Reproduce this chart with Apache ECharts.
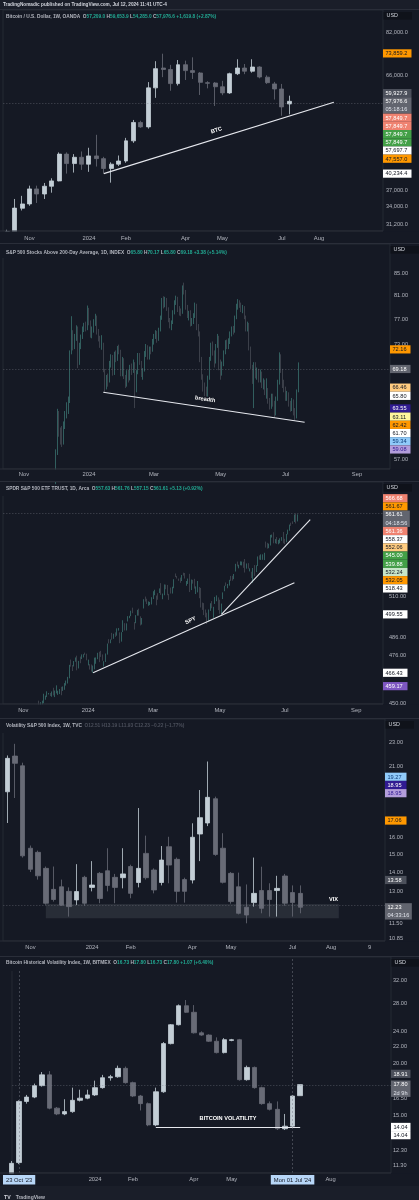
<!DOCTYPE html>
<html><head><meta charset="utf-8">
<script src="https://cdn.jsdelivr.net/npm/echarts@6/dist/echarts.min.js"></script>
<style>html,body{margin:0;padding:0;background:#151924;}#c{width:419px;height:1200px;}</style>
</head><body><div id="c"></div>
<script>
// ================= DATA =================
const weekDates = ['2023-10-16','2023-10-23','2023-10-30','2023-11-06','2023-11-13','2023-11-20','2023-11-27','2023-12-04','2023-12-11','2023-12-18','2023-12-25','2024-01-01','2024-01-08','2024-01-15','2024-01-22','2024-01-29','2024-02-05','2024-02-12','2024-02-19','2024-02-26','2024-03-04','2024-03-11','2024-03-18','2024-03-25','2024-04-01','2024-04-08','2024-04-15','2024-04-22','2024-04-29','2024-05-06','2024-05-13','2024-05-20','2024-05-27','2024-06-03','2024-06-10','2024-06-17','2024-06-24','2024-07-01','2024-07-08'];

// all OHLC rows in [open, close, low, high]
const btcRows = [
[26860,29990,26800,30300],[29990,33800,29800,35400],[33780,34520,33400,35960],[34520,37240,34200,37860],
[37240,36300,34690,37860],[36300,37750,35400,38380],[37750,38780,36540,39300],[38780,44400,38700,44790],
[44400,42330,40240,44800],[42330,43700,40450,44400],[43700,42200,41000,45000],[42200,44000,40600,45850],
[44000,43400,41700,48950],[43400,41300,40300,43800],[41300,42200,38440,42600],[42200,42880,41800,44090],
[42880,47480,42500,48200],[47480,52100,47000,52770],[52100,50950,50700,52550],[50950,62050,50500,63890],
[62050,68380,59000,71000],[68600,68100,65500,73740],[68100,63400,61150,69700],[63400,69750,62800,71430],
[69750,67700,64570,71200],[67700,67100,64900,72400],[66900,63800,59860,67200],[63700,63500,61900,64170],
[63600,62400,56630,63900],[62400,60500,59800,64300],[60500,66650,60200,67000],[66650,68600,66200,71700],
[68600,67500,66500,70000],[67500,68950,67000,71700],[68950,65550,65100,69200],[65500,63700,63300,66100],
[63300,61700,58500,63950],[61700,56357,53900,63300],[57209,57976.6,54285,59653.9]];

const vixRows = [
[19.05,21.66,16.9,21.9],[21.85,21.25,18.6,22.9],[21.05,14.9,14.8,21.3],[15.34,14.15,14.0,15.5],
[15.1,13.8,13.6,15.2],[14.2,12.42,12.35,14.3],[13.1,12.6,12.5,14.3],[13.23,12.33,12.3,13.6],
[13.0,12.26,11.8,13.2],[12.58,12.99,12.34,14.43],[13.72,12.42,12.3,13.8],[13.2,13.32,13.0,14.6],
[13.93,12.65,12.42,14.0],[14.07,13.3,13.0,15.34],[13.72,13.2,12.42,13.9],[13.7,13.9,13.15,15.34],
[14.3,12.9,12.66,14.4],[13.45,14.2,13.2,17.9],[15.04,13.7,13.6,16.1],[14.11,13.07,12.9,14.2],
[13.45,14.66,13.3,15.47],[15.43,14.38,13.41,16.03],[14.7,13.0,12.45,14.8],[13.6,13.0,12.45,13.7],
[13.58,16.0,13.4,16.88],[16.2,17.25,14.6,19.18],[16.9,18.65,16.7,21.4],[18.55,14.98,14.9,18.7],
[15.34,13.46,13.4,16.25],[13.93,12.5,12.4,14.0],[13.23,11.95,11.9,13.97],[12.23,11.87,11.5,13.35],
[12.45,12.9,12.26,14.8],[13.04,12.18,11.95,14.29],[13.04,12.6,11.8,13.41],[13.04,13.15,11.8,13.8],
[13.79,12.42,12.3,13.9],[12.94,12.45,11.8,13.3],[12.9,12.23,11.95,13.3]];

const bvolRows = [
[10.5,11.45,10.4,11.6],[11.5,16.2,11.4,16.3],[16.2,16.6,16.0,16.8],[16.6,17.7,16.5,17.9],
[17.7,18.8,17.6,19.1],[18.8,15.6,15.5,19.2],[15.6,15.1,15.0,15.7],[15.1,15.3,15.0,16.4],
[15.3,16.3,15.2,17.5],[16.3,16.5,16.2,17.3],[16.5,16.8,16.4,17.3],[16.8,17.5,16.7,18.2],
[17.5,18.5,17.4,18.8],[18.5,18.6,18.2,18.8],[18.6,19.5,18.5,19.8],[19.5,18.0,17.9,19.7],
[18.0,16.7,16.6,18.1],[16.7,16.0,15.4,16.8],[16.0,14.2,14.1,16.1],[14.2,17.1,14.1,17.5],
[17.1,22.4,17.0,22.6],[22.4,24.9,22.3,25.0],[24.9,27.7,24.8,27.9],[27.7,26.7,26.6,28.6],
[26.7,23.8,23.7,27.8],[23.8,23.5,23.4,24.0],[23.5,22.7,22.6,23.6],[22.7,21.3,21.2,23.2],
[21.3,22.9,21.2,23.1],[22.8,22.9,22.7,23.0],[22.9,18.3,18.2,23.0],[18.3,19.6,18.2,19.8],
[19.6,17.5,17.4,19.7],[17.5,16.0,15.9,17.6],[16.0,15.5,15.4,16.2],[15.5,13.9,13.8,16.2],
[13.9,14.1,13.8,15.1],[14.1,16.7,14.0,16.8],[16.73,17.80,16.73,17.80]];

// SPY daily: [date, open, close, low, high]
const spyRows = [
['2023-11-15',450.3,449.7,448.3,451.4],['2023-11-16',449.2,450.2,447.8,450.6],['2023-11-17',450.2,450.8,449.3,451.4],
['2023-11-20',450.5,454.3,450.0,455.1],['2023-11-21',453.2,453.3,451.9,454.1],['2023-11-22',454.0,455.0,453.3,456.4],
['2023-11-24',455.1,455.3,454.7,455.5],['2023-11-27',454.7,454.5,453.9,455.5],['2023-11-28',454.1,454.9,453.5,456.3],
['2023-11-29',457.2,454.6,454.2,458.3],['2023-11-30',455.5,456.4,453.3,456.8],['2023-12-01',455.8,459.1,455.3,459.6],
['2023-12-04',455.6,456.7,454.5,456.7],['2023-12-05',455.3,456.6,454.9,457.6],['2023-12-06',458.8,454.8,454.3,458.8],
['2023-12-07',456.9,458.2,456.6,459.0],['2023-12-08',457.5,460.2,457.2,460.8],['2023-12-11',459.7,461.9,459.5,462.2],
['2023-12-12',461.6,464.1,460.6,464.2],['2023-12-13',464.5,470.5,463.4,470.8],['2023-12-14',472.5,472.0,469.8,473.7],
['2023-12-15',469.5,469.3,467.4,470.7],['2023-12-18',470.0,472.0,469.9,472.9],['2023-12-19',472.5,474.8,472.5,474.9],
['2023-12-20',474.0,468.3,467.8,475.9],['2023-12-21',471.3,472.7,468.8,473.0],['2023-12-22',473.9,473.7,471.7,475.4],
['2023-12-26',474.1,475.7,474.0,476.6],['2023-12-27',475.4,476.5,474.9,476.7],['2023-12-28',476.9,476.7,476.3,477.6],
['2023-12-29',476.5,475.3,473.3,477.0],['2024-01-02',472.2,472.7,470.5,473.7],['2024-01-03',470.4,468.8,468.2,471.2],
['2024-01-04',468.3,467.3,467.1,471.0],['2024-01-05',467.5,467.9,466.4,470.4],['2024-01-08',468.4,474.6,468.3,474.8],
['2024-01-09',471.9,473.9,471.4,474.9],['2024-01-10',474.2,476.6,473.9,477.5],['2024-01-11',477.6,476.4,472.3,478.1],
['2024-01-12',477.8,476.7,475.2,478.6],['2024-01-16',475.3,474.9,473.1,476.6],['2024-01-17',471.8,472.3,469.9,472.8],
['2024-01-18',474.0,476.5,472.4,477.1],['2024-01-19',477.7,482.4,476.5,482.7],['2024-01-22',484.0,483.5,482.8,485.2],
['2024-01-23',484.0,484.9,482.9,485.1],['2024-01-24',487.8,485.4,484.9,488.8],['2024-01-25',487.6,488.0,485.4,488.3],
['2024-01-26',487.6,487.4,486.5,489.1],['2024-01-29',487.7,491.3,487.2,491.4],['2024-01-30',490.6,490.9,490.1,491.6],
['2024-01-31',488.6,482.9,482.9,489.1],['2024-02-01',484.6,489.2,483.8,489.2],['2024-02-02',489.6,494.4,489.3,496.1],
['2024-02-05',493.7,492.6,490.2,494.4],['2024-02-06',493.5,494.0,490.2,494.3],['2024-02-07',496.3,498.1,495.4,498.5],
['2024-02-08',498.1,498.3,497.3,498.7],['2024-02-09',498.8,501.2,498.5,501.7],['2024-02-12',501.2,501.0,500.2,503.5],
['2024-02-13',494.5,494.1,490.7,495.1],['2024-02-14',496.8,498.6,494.4,499.1],['2024-02-15',499.3,502.0,498.8,502.2],
['2024-02-16',501.7,499.5,498.8,502.9],['2024-02-20',497.7,496.8,493.1,498.4],['2024-02-21',495.4,497.2,493.6,497.4],
['2024-02-22',504.0,507.5,503.0,508.5],['2024-02-23',509.3,507.9,507.1,510.1],['2024-02-26',508.3,506.0,505.6,508.8],
['2024-02-27',506.7,506.9,504.6,507.2],['2024-02-28',505.3,506.3,505.0,506.9],['2024-02-29',508.1,508.1,505.4,509.7],
['2024-03-01',509.0,512.9,508.6,513.3],['2024-03-04',512.0,512.3,510.9,514.2],['2024-03-05',510.2,507.2,504.9,510.7],
['2024-03-06',510.6,509.8,508.2,512.1],['2024-03-07',513.1,514.8,512.2,515.0],['2024-03-08',515.5,511.7,511.1,518.2],
['2024-03-11',510.5,511.3,508.5,511.9],['2024-03-12',513.5,516.8,510.9,517.4],['2024-03-13',517.1,516.0,514.5,517.3],
['2024-03-14',517.0,515.0,510.9,517.1],['2024-03-15',510.2,509.8,508.1,511.7],['2024-03-18',514.0,512.9,511.9,515.5],
['2024-03-19',512.1,516.0,511.9,516.0],['2024-03-20',515.8,520.5,515.1,520.6],['2024-03-21',523.4,522.2,521.9,524.1],
['2024-03-22',522.1,521.2,521.0,522.6],['2024-03-25',519.8,519.8,519.6,521.0],['2024-03-26',521.2,518.8,518.4,521.6],
['2024-03-27',521.7,523.2,519.5,523.2],['2024-03-28',523.2,523.1,522.8,524.6],['2024-04-01',523.8,522.2,521.0,524.4],
['2024-04-02',518.2,518.8,516.6,519.5],['2024-04-03',517.7,519.4,517.7,521.0],['2024-04-04',523.5,513.1,512.8,523.9],
['2024-04-05',514.5,518.4,514.0,520.4],['2024-04-08',519.2,518.7,517.9,520.2],['2024-04-09',520.5,519.3,514.9,520.8],
['2024-04-10',513.5,514.1,511.6,516.2],['2024-04-11',515.7,518.0,512.6,519.5],['2024-04-12',514.4,510.9,509.1,515.8],
['2024-04-15',515.1,504.5,503.6,515.3],['2024-04-16',504.9,503.5,502.2,506.5],['2024-04-17',506.1,500.6,499.1,506.2],
['2024-04-18',501.0,499.5,497.8,502.4],['2024-04-19',499.4,495.2,493.9,500.5],['2024-04-22',497.8,499.7,495.4,502.4],
['2024-04-23',501.8,505.7,501.6,506.1],['2024-04-24',506.6,505.4,503.1,507.4],['2024-04-25',499.2,503.5,497.5,504.0],
['2024-04-26',506.4,508.3,505.7,509.9],['2024-04-29',510.1,510.1,507.3,510.8],['2024-04-30',508.6,502.0,502.0,509.6],
['2024-05-01',501.4,500.4,499.9,508.2],['2024-05-02',504.2,505.0,499.6,505.9],['2024-05-03',511.2,511.3,508.6,512.6],
['2024-05-06',513.8,516.6,513.3,516.6],['2024-05-07',517.6,517.1,516.4,518.6],['2024-05-08',515.3,517.2,515.1,517.7],
['2024-05-09',517.4,520.2,516.7,520.2],['2024-05-10',521.8,520.8,519.6,522.6],['2024-05-13',522.6,520.9,519.7,522.7],
['2024-05-14',521.1,523.3,520.6,523.8],['2024-05-15',525.8,529.8,525.3,530.1],['2024-05-16',529.9,528.7,528.5,531.5],
['2024-05-17',528.8,529.5,527.3,529.5],['2024-05-20',529.6,530.1,529.2,531.6],['2024-05-21',529.3,531.4,529.1,531.5],
['2024-05-22',530.7,529.8,527.6,531.4],['2024-05-23',533.0,526.0,524.7,533.1],['2024-05-24',527.9,529.4,527.1,530.3],
['2024-05-28',530.3,529.8,527.1,530.5],['2024-05-29',525.7,526.1,525.4,527.3],['2024-05-30',524.5,522.6,521.3,525.2],
['2024-05-31',523.6,527.4,518.4,527.5],['2024-06-03',529.0,527.8,522.6,529.3],['2024-06-04',526.5,528.4,525.0,529.2],
['2024-06-05',530.8,534.7,528.7,534.7],['2024-06-06',535.0,534.7,532.7,535.4],['2024-06-07',533.7,534.0,532.5,536.0],
['2024-06-10',533.2,535.7,532.6,536.0],['2024-06-11',534.1,537.0,532.4,537.0],['2024-06-12',541.6,541.4,540.3,544.1],
['2024-06-13',543.1,542.5,539.6,543.3],['2024-06-14',540.9,542.8,539.9,542.8],['2024-06-17',542.1,547.1,541.6,548.4],
['2024-06-18',547.2,548.5,546.7,548.6],['2024-06-20',549.4,547.0,543.0,550.1],['2024-06-21',544.4,544.5,543.0,545.7],
['2024-06-24',544.3,542.7,542.6,547.0],['2024-06-25',544.0,544.8,542.4,545.2],['2024-06-26',543.7,545.5,543.0,546.2],
['2024-06-27',545.4,546.4,544.6,547.0],['2024-06-28',547.2,544.2,543.0,550.3],['2024-07-01',545.6,545.3,542.5,545.9],
['2024-07-02',543.7,549.0,543.7,549.0],['2024-07-03',548.7,551.5,548.7,551.8],['2024-07-05',551.8,554.6,551.1,555.1],
['2024-07-08',555.4,555.3,554.2,556.3],['2024-07-09',556.3,555.8,555.5,557.2],['2024-07-10',557.1,561.3,556.8,561.7],
['2024-07-11',561.4,556.5,555.8,562.3],['2024-07-12',557.63,561.61,557.15,561.76]];

// S&P 500 stocks above 200-day average, daily, last rows end 2024-07-12 (aligned to spy dates)
const s5thRows = [
[54.5,57.8,54.0,58.2],[57.9,62.5,57.5,63.5],[62.3,60.4,59.8,63.2],[60.4,59.4,58.8,61.0],[59.5,59.0,58.5,61.2],
[59.0,61.3,58.8,61.8],[61.3,62.8,60.8,63.2],[62.8,63.6,62.2,64.4],[63.6,64.3,62.8,65.2],[64.5,71.5,64.3,72.0],
[71.8,74.8,71.4,77.5],[74.8,72.6,72.0,75.2],[72.6,73.9,72.2,74.6],[73.9,75.6,73.5,76.0],[75.6,69.8,69.3,75.8],
[70.0,72.8,69.8,73.2],[72.8,74.0,72.2,74.5],[74.0,75.4,73.8,75.8],[75.4,76.0,74.9,76.4],[76.0,75.6,75.0,76.6],
[75.6,78.9,75.2,79.3],[78.6,76.6,76.0,78.9],[76.6,74.4,74.0,76.8],[74.4,75.2,73.9,75.8],[75.2,76.6,74.8,77.0],
[76.6,77.5,75.9,77.9],[77.5,74.9,74.5,77.6],[74.9,74.0,73.4,75.4],[74.0,72.9,72.4,74.3],[72.9,73.8,72.1,74.4],
[73.0,69.0,68.7,73.2],[68.9,66.6,65.7,69.2],[66.6,67.8,66.2,68.3],[67.8,67.2,66.6,68.5],[67.4,70.0,67.2,70.4],
[70.0,71.0,69.4,71.4],[71.0,68.6,68.2,71.3],[68.6,71.5,68.3,71.8],[71.5,70.8,70.2,72.0],[70.8,72.4,70.4,72.7],
[72.4,71.9,71.4,72.9],[71.9,68.4,68.1,72.1],[68.4,70.6,68.1,71.0],[70.6,68.0,67.7,70.8],[68.0,66.8,66.4,68.3],
[66.8,68.6,66.6,69.0],[68.6,67.8,67.2,69.1],[67.8,69.4,67.5,69.8],[69.4,68.8,68.3,70.0],[68.8,70.2,68.6,70.6],
[70.0,66.0,63.6,70.2],[66.0,68.6,65.8,69.0],[68.6,71.3,68.4,71.6],[71.3,70.2,69.8,71.6],[70.2,68.4,68.0,70.4],
[68.4,68.9,67.6,69.3],[69.0,71.4,68.8,71.9],[71.4,72.6,71.0,73.0],[72.6,70.9,70.6,72.8],[70.9,72.3,70.6,72.6],
[72.3,72.0,71.4,72.6],[72.0,73.4,71.8,73.8],[73.4,74.2,72.9,74.6],[74.2,74.8,73.8,75.2],[74.8,73.6,73.2,75.1],
[73.6,75.2,73.5,75.6],[75.2,77.2,75.0,77.6],[77.2,80.2,76.9,80.6],[80.2,79.6,78.8,80.9],[79.6,80.4,79.0,80.8],
[80.4,78.8,78.4,80.6],[78.8,76.9,76.5,79.0],[76.9,75.9,75.5,77.2],[75.9,76.4,75.2,76.8],[76.4,78.1,76.2,78.5],
[78.1,79.8,77.8,80.2],[79.8,80.6,79.4,81.0],[80.6,78.6,78.2,80.8],[78.6,78.2,77.6,79.2],[78.2,78.0,77.5,78.8],
[78.0,82.4,77.9,82.8],[82.4,81.8,81.2,83.3],[81.8,79.0,78.6,82.0],[79.0,77.6,77.2,79.4],[77.6,77.9,76.8,78.4],
[77.9,76.2,75.8,78.5],[76.2,76.8,75.9,77.2],[76.6,77.6,76.2,78.0],[77.6,79.4,77.2,79.8],[79.4,75.6,75.2,79.6],
[75.6,74.8,74.2,76.2],[74.8,70.6,70.2,75.0],[70.6,68.0,67.6,71.0],[68.0,66.4,65.9,68.4],[66.4,65.8,65.2,67.2],
[65.8,65.2,64.6,66.6],[65.2,67.8,65.0,68.2],[67.8,70.6,67.6,71.0],[70.6,72.8,70.4,73.2],[72.8,71.6,71.2,73.4],
[71.6,70.2,69.4,72.0],[70.2,72.6,70.0,73.0],[72.6,74.1,72.4,74.6],[74.1,69.4,69.0,74.3],[69.4,68.4,67.6,70.6],
[68.4,69.8,68.2,70.3],[69.8,71.6,69.6,72.0],[71.6,73.2,71.4,73.6],[73.2,72.6,72.2,73.7],[72.6,73.4,72.2,73.9],
[73.4,74.6,73.0,75.0],[74.6,75.4,74.2,75.8],[75.4,75.0,74.5,75.9],[75.0,77.2,74.8,77.6],[77.2,79.2,77.0,79.6],
[79.2,79.8,78.6,80.4],[79.8,79.4,78.9,80.2],[79.4,78.6,78.2,79.8],[78.6,79.0,78.0,79.4],[79.0,77.4,77.0,79.2],
[77.4,75.4,75.0,77.6],[75.4,76.2,75.0,76.6],[76.2,72.4,72.0,76.4],[72.4,69.6,69.2,72.6],[69.6,67.4,67.0,69.8],
[67.4,69.8,63.6,70.2],[69.8,68.4,67.8,70.2],[68.4,68.9,67.6,69.4],[68.9,67.6,67.2,69.2],[67.6,68.6,67.2,69.1],
[68.6,66.8,66.4,68.8],[66.8,67.4,66.2,67.8],[67.4,65.8,65.4,67.6],[65.8,66.2,64.9,67.8],[66.2,64.6,64.2,66.4],
[64.6,63.8,63.4,65.0],[63.8,65.2,63.5,65.6],[65.2,64.4,63.8,65.6],[64.4,62.9,62.3,64.6],[62.9,64.8,62.6,65.2],
[64.8,67.2,64.6,67.6],[67.2,71.2,66.9,71.7],[71.2,69.0,68.6,71.4],[69.0,66.8,66.4,69.2],[66.8,66.2,65.8,67.6],
[66.2,65.0,64.6,66.6],[65.0,65.6,64.6,66.0],[65.6,64.2,63.8,65.8],[64.2,63.6,63.1,64.6],[63.6,64.4,63.2,65.0],
[64.4,63.0,62.6,64.8],[63.0,62.4,61.9,63.6],[62.4,65.8,62.2,66.2],[65.80,69.18,65.80,70.17]];

// axis tick labels
const btcYTicks = [82000, 66000, 37000, 34000, 31200];
const s5thYTicks = [85, 81, 77, 73, 57];
const spyYTicks = [510, 486, 476, 450];
const vixYTicks = [23, 21, 16, 15, 14, 13, 11.5, 10.85];
const bvolYTicks = [32, 28, 24, 22, 20, 16.5, 15, 12.3, 11.3];
const weekTicks = [['2023-11-06','Nov'],['2024-01-01','2024'],['2024-02-05','Feb'],['2024-04-01','Apr'],['2024-05-06','May'],['2024-07-01','Jul'],['2024-08-05','Aug']];
const vixWeekTicks = weekTicks.concat([['2024-09-09','9']]);
const bvolWeekTicks = [['2023-10-23',"23 Oct '23"],['2024-01-01','2024'],['2024-02-05','Feb'],['2024-04-01','Apr'],['2024-05-06','May'],['2024-07-01',"Mon 01 Jul '24"],['2024-08-05','Aug']];
const dayTicks = [['2023-11-01','Nov'],['2024-01-02','2024'],['2024-03-01','Mar'],['2024-05-01','May'],['2024-07-01','Jul'],['2024-09-03','Sep']];

// visible axis ranges (price units)
const btcRange = [30110, 91960], s5thRange = [55.79, 90.52], spyRange = [449.64, 583.54], vixRange = [10.745, 25.19], bvolRange = [10.846, 36.40];

// price tags on the right scale (top to bottom as shown)
const btcTagValues = [73859.2, 59927.9, 57976.6, 57849.7, 57849.7, 57849.7, 57849.7, 57697.7, 47557.0, 40234.4];
const s5thTagValues = [72.16, 69.18, 66.46, 65.80, 63.55, 63.11, 62.42, 61.70, 59.34, 59.08];
const spyTagValues = [566.68, 561.67, 561.61, 561.36, 558.37, 552.06, 545.00, 539.88, 532.24, 532.05, 518.43, 499.55, 466.43, 459.17];
const vixTagValues = [19.27, 18.95, 18.95, 17.06, 13.58, 12.23];
const bvolTagValues = [18.91, 17.80, 14.04, 14.04];

// drawings: [startDate, startValue, endDate, endValue, label]
const btcTrend = ['2024-01-15', 40234.4, '2024-08-19', 57697.7, 'BTC'];
const breadthTrend = ['2024-01-16', 65.80, '2024-07-18', 61.70, 'breadth'];
const spyTrend1 = ['2024-01-05', 466.43, '2024-07-10', 518.43, 'SPY'];
const spyTrend2 = ['2024-05-02', 499.55, '2024-07-24', 558.37, ''];
const bvolLevel = ['2024-02-26', 14.04, '2024-07-08', 14.04, 'BITCOIN VOLATILITY'];
const vixZone = ['2023-11-20', 12.38, '2024-08-12', 11.73, 'VIX'];

// ================= HELPERS =================
const L = v => Math.log10(v);
const DAY = 86400000;
const pd = s => Date.parse(s + 'T00:00:00Z');
const weekIdx = s => Math.round((pd(s) - pd(weekDates[0])) / (7 * DAY));
const spyDates = spyRows.map(r => r[0]);
const K0 = spyDates.indexOf('2024-01-02');
function countWeekdays(a, b) { let n = 0; for (let t = a; t < b; t += DAY) { const d = new Date(t).getUTCDay(); if (d !== 0 && d !== 6) n++; } return n; }
function dayIdx(s) {
  const i = spyDates.indexOf(s);
  if (i >= 0) return i - K0;
  const t = pd(s), first = pd(spyDates[0]), last = pd(spyDates[spyDates.length - 1]);
  if (t < first) return -countWeekdays(t, first) - K0;
  return (spyDates.length - 1 - K0) + countWeekdays(last + DAY, t + DAY);
}
const s5thDates = spyDates.slice(-s5thRows.length);

// ================= STYLE =================
const FONT = '"Liberation Sans", Arial, sans-serif';
const BG = '#151924', LINE = '#2a2e39', TXT = '#b2b5be';
const TAGC = {
  orange: ['#ff9800', '#131722'], gray: ['#4c505b', '#ffffff'], cur: ['#62656f', '#ffffff'],
  salmon: ['#ef8270', '#ffffff'], green: ['#43a047', '#ffffff'], white: ['#ffffff', '#131722'],
  peach: ['#ffcc80', '#131722'], indigo: ['#311b92', '#ffffff'], yellow: ['#fff59d', '#131722'],
  blue: ['#90caf9', '#0d3c78'], lavender: ['#b39ddb', '#311b92'], purple: ['#7e57c2', '#ffffff'], mint: ['#c8e6c9', '#131722']
};
const f1 = v => v.toLocaleString('en-US', {minimumFractionDigits: 1, maximumFractionDigits: 1});
const f2 = v => v.toFixed(2);
const WUP = '#c3ced6', WDN = '#686b76', DUP = '#4a9990', DDN = '#5c5f69';
const titleRich = {
  n: {color: TXT, fontSize: 4.8, fontFamily: FONT}, k: {color: TXT, fontSize: 4.8, fontFamily: FONT},
  v: {color: '#22ab94', fontSize: 4.8, fontFamily: FONT}, d: {color: '#4b4f5b', fontSize: 4.8, fontFamily: FONT}
};

const panels = [
  { grid: {left: 3, top: 10, width: 380, height: 221}, next: 243, xr: [-0.5725, 50.62], yr: btcRange,
    rows: btcRows.map((r, i) => [i].concat(r)), xTicks: weekTicks.map(t => [weekIdx(t[0]), t[1]]),
    yTicks: btcYTicks, yFmt: f1, tagFmt: f1, up: WUP, dn: WDN, bw: 4.4, bwid: 0.8, xm: 4, ym: 3, tdy: 4,
    title: '{n|Bitcoin / U.S. Dollar, 1W, OANDA}  {k|O}{v|57,209.0} {k|H}{v|59,653.9} {k|L}{v|54,285.0} {k|C}{v|57,976.6} {v|+1,619.8 (+2.87%)}',
    cur: 57976.6, trends: [[weekIdx(btcTrend[0]), btcTrend[1], weekIdx(btcTrend[2]), btcTrend[3], btcTrend[4]]],
    tagV: btcTagValues, tagK: ['orange','gray','cur','salmon','salmon','green','green','white','orange','white'], cd: '05:18:16', tagW: 28.5 },
  { grid: {left: 3, top: 244, width: 387, height: 225}, next: 481, xr: [-54.22, 189.8], yr: s5thRange,
    rows: s5thRows.map((r, i) => [dayIdx(s5thDates[i])].concat(r)), xTicks: dayTicks.map(t => [dayIdx(t[0]), t[1]]),
    yTicks: s5thYTicks, yFmt: f2, tagFmt: f2, up: DUP, dn: DDN, bw: 0.8, bwid: 0.55, xm: 2, ym: 4, tdy: 6,
    title: '{n|S&P 500 Stocks Above 200-Day Average, 1D, INDEX}  {k|O}{v|65.80} {k|H}{v|70.17} {k|L}{v|65.80} {k|C}{v|69.18} {v|+3.38 (+5.14%)}',
    cur: 69.18, trends: [[dayIdx(breadthTrend[0]), breadthTrend[1], dayIdx(breadthTrend[2]), breadthTrend[3], breadthTrend[4]]],
    tagV: s5thTagValues, tagK: ['orange','cur','peach','white','indigo','yellow','orange','white','blue','lavender'], cd: null, tagW: 20.5 },
  { grid: {left: 3, top: 482, width: 380, height: 222}, next: 718, xr: [-53.82, 185.9], yr: spyRange,
    rows: spyRows.map(r => [dayIdx(r[0])].concat(r.slice(1))), xTicks: dayTicks.map(t => [dayIdx(t[0]), t[1]]),
    yTicks: spyYTicks, yFmt: f2, tagFmt: f2, up: DUP, dn: DDN, bw: 0.8, bwid: 0.55, xm: 3, ym: 6, tdy: 4,
    title: '{n|SPDR S&P 500 ETF TRUST, 1D, Arca}  {k|O}{v|557.63} {k|H}{v|561.76} {k|L}{v|557.15} {k|C}{v|561.61} {v|+5.13 (+0.92%)}',
    cur: 561.61, trends: [[dayIdx(spyTrend1[0]), spyTrend1[1], dayIdx(spyTrend1[2]), spyTrend1[3], spyTrend1[4]],
                          [dayIdx(spyTrend2[0]), spyTrend2[1], dayIdx(spyTrend2[2]), spyTrend2[3], spyTrend2[4]]],
    tagV: spyTagValues, tagK: ['salmon','orange','cur','salmon','white','peach','green','green','mint','orange','white','white','white','purple'], cd: '04:18:56', tagW: 24.5 },
  { grid: {left: 3, top: 719, width: 382, height: 222}, next: 956, xr: [-0.556, 48.99], yr: vixRange,
    rows: vixRows.map((r, i) => [i].concat(r)), xTicks: vixWeekTicks.map(t => [weekIdx(t[0]), t[1]]),
    yTicks: vixYTicks, yFmt: f2, tagFmt: f2, up: WUP, dn: WDN, bw: 5.0, bwid: 0.8, xm: 3, ym: 4, tdy: 4,
    title: '{n|Volatility S&P 500 Index, 1W, TVC}  {d|O12.51 H13.19 L11.93 C12.23 −0.22 (−1.77%)}',
    cur: 12.23, trends: [],
    zone: [weekIdx(vixZone[0]), vixZone[1], weekIdx(vixZone[2]), vixZone[3], vixZone[4]],
    tagV: vixTagValues, tagK: ['blue','indigo','lavender','orange','gray','cur'], cd: '04:33:16', tagW: 21.5 },
  { grid: {left: 3, top: 957, width: 388, height: 216}, next: 1186, xr: [0.057, 49.96], yr: bvolRange,
    rows: bvolRows.map((r, i) => [i].concat(r)), xTicks: bvolWeekTicks.map(t => [weekIdx(t[0]), t[1]]),
    yTicks: bvolYTicks, yFmt: f2, tagFmt: f2, up: WUP, dn: WDN, bw: 4.9, bwid: 0.8, xm: 2, ym: 2, tdy: 3,
    hl: {"23 Oct '23": true, "Mon 01 Jul '24": true},
    title: '{n|Bitcoin Historical Volatility Index, 1W, BITMEX}  {k|O}{v|16.73} {k|H}{v|17.80} {k|L}{v|16.73} {k|C}{v|17.80} {v|+1.07 (+6.40%)}',
    cur: 17.80, trends: [[weekIdx(bvolLevel[0]), bvolLevel[1], weekIdx(bvolLevel[2]), bvolLevel[3], bvolLevel[4]]],
    vlines: [weekIdx('2023-10-23'), weekIdx('2024-07-01')],
    tagV: bvolTagValues, tagK: ['gray','cur','white','white'], cd: '2d 9h', tagW: 19.5 }
];

// ================= OPTION =================
const option = {backgroundColor: BG, animation: false, grid: [], xAxis: [], yAxis: [], series: [], title: []};
panels.forEach((P, i) => {
  option.grid.push(Object.assign({show: true, borderColor: LINE, borderWidth: 0.8, backgroundColor: BG}, P.grid));
  const xr = {n: {color: TXT, fontSize: 5.8, fontFamily: FONT, padding: [1.5, 0, 0, 0]},
              hl: {color: '#131722', backgroundColor: '#b7d6f7', fontSize: 5.8, fontFamily: FONT, padding: [2, 3, 1.5, 3]}};
  option.xAxis.push({gridIndex: i, type: 'value', min: P.xr[0], max: P.xr[1], z: 20,
    axisLine: {show: false}, axisTick: {show: false}, splitLine: {show: false},
    axisLabel: {customValues: P.xTicks.map(t => t[0]), hideOverlap: false, margin: P.xm, color: TXT, fontSize: 5.8, fontFamily: FONT, rich: xr,
      formatter: v => { const t = P.xTicks.find(t => Math.abs(t[0] - v) < 1e-6); if (!t) return '';
        if (P.hl && P.hl[t[1]]) return '{hl|' + t[1] + '}';
        return P.hl ? '{n|' + t[1] + '}' : t[1]; }}});
  option.yAxis.push({gridIndex: i, type: 'value', position: 'right', min: L(P.yr[0]), max: L(P.yr[1]), z: 20,
    axisLine: {show: false}, axisTick: {show: false}, splitLine: {show: false},
    axisLabel: {customValues: P.yTicks.map(L), hideOverlap: false, margin: P.ym, color: TXT, fontSize: 5.6, fontFamily: FONT, align: 'left',
      formatter: v => { const t = P.yTicks.find(t => Math.abs(L(t) - v) < 1e-7); return t === undefined ? '' : P.yFmt(t); }}});
  const ml = [{yAxis: L(P.cur), lineStyle: {color: '#787b86', width: 0.5, type: [1.5, 1.5], opacity: 0.7}, label: {show: false}}];
  P.trends.forEach(t => {
    ml.push([{coord: [t[0], L(t[1])], lineStyle: {color: '#e6e8ee', width: 1.1, type: 'solid', opacity: 1},
              label: {show: !!t[4], position: 'middle', formatter: t[4], color: '#ffffff', fontSize: 5.6, fontWeight: 'bold', fontFamily: FONT, backgroundColor: BG, padding: [0, 1.5]}},
             {coord: [t[2], L(t[3])]}]);
  });
  (P.vlines || []).forEach(x => ml.push({xAxis: x, lineStyle: {color: '#787b86', width: 0.6, type: [2, 2], opacity: 0.8}, label: {show: false}}));
  const s = {type: 'candlestick', xAxisIndex: i, yAxisIndex: i, silent: true, animation: false, clip: true,
    data: P.rows.map(r => [r[0], L(r[1]), L(r[2]), L(r[3]), L(r[4])]), encode: {x: 0, y: [1, 2, 3, 4]},
    barWidth: P.bw, itemStyle: {color: P.up, color0: P.dn, borderColor: P.up, borderColor0: P.dn, borderWidth: P.bwid},
    markLine: {symbol: ['none', 'none'], silent: true, animation: false, data: ml}};
  if (P.zone) {
    const z = P.zone;
    s.markArea = {silent: true, itemStyle: {color: 'rgba(120,123,134,0.2)'}, data: [[{coord: [z[0], L(z[1])]}, {coord: [z[2], L(z[3])]}]]};
    s.markPoint = {silent: true, symbol: 'rect', symbolSize: 1, itemStyle: {color: 'rgba(0,0,0,0)'},
      data: [{coord: [z[2] - 0.7, L(z[1]) + 0.0085], label: {show: true, position: 'inside', formatter: z[4], color: '#ffffff', fontWeight: 'bold', fontSize: 5.6, fontFamily: FONT}}]};
  }
  option.series.push(s);
  option.title.push({text: P.title, left: P.grid.left + 3, top: P.grid.top + P.tdy, padding: 0, z: 30, textStyle: {rich: titleRich, fontSize: 4.8}});
});
option.title.push({text: 'TradingNomadic published on TradingView.com, Jul 12, 2024 11:41 UTC-4', left: 3, top: 2.5, padding: 0,
  textStyle: {color: '#d1d4dc', fontSize: 4.7, fontWeight: 'bold', fontFamily: FONT}});
option.title.push({text: '{l|TV} {t|TradingView}', left: 4, top: 1188.5, padding: 0, z: 30,
  textStyle: {rich: {l: {color: '#d1d4dc', fontSize: 5.2, fontWeight: 'bold', fontFamily: FONT}, t: {color: '#b2b5be', fontSize: 5, fontFamily: FONT}}}});

const chart = echarts.init(document.getElementById('c'), null, {width: 419, height: 1200, renderer: 'canvas'});
chart.setOption(option);

// ================= TAGS / FRAME =================
const g = [
  {type: 'rect', shape: {x: 0, y: 0, width: 419, height: 10}, style: {fill: '#1a1e29'}, z: -1},
  {type: 'rect', shape: {x: 0, y: 1186, width: 419, height: 14}, style: {fill: '#1a1e29'}, z: 10}
];
const charW = ch => (/[0-9]/.test(ch) ? 3.12 : (/[.,:]/.test(ch) ? 1.56 : (ch === ' ' ? 1.56 : 3.1)));
const textW = s => s.split('').reduce((a, c) => a + charW(c), 0);
panels.forEach((P, i) => {
  const h = 8.2, right = P.grid.left + P.grid.width, n = P.tagV.length;
  const bottom = P.grid.top + P.grid.height;
  // time-scale band below the plot (hides parts of candles outside the pane)
  g.push({type: 'rect', shape: {x: 0, y: bottom + 0.4, width: 419, height: P.next - bottom - 0.4}, style: {fill: BG}, z: 10});
  g.push({type: 'rect', shape: {x: 0, y: bottom - 0.4, width: right, height: 0.8}, style: {fill: LINE}, z: 11});
  // empty headroom strip at the top of lower panes (hides overflow from the pane above)
  if (i > 0) g.push({type: 'rect', shape: {x: 0, y: P.grid.top, width: 40, height: 14}, style: {fill: BG}, z: 10});
  g.push({type: 'rect', shape: {x: 0, y: P.grid.top - 1, width: 419, height: 1}, style: {fill: LINE}, z: 50});
  g.push({type: 'rect', shape: {x: right + 0.5, y: P.grid.top + 2, width: 28.5, height: 7.6}, style: {fill: '#0f121a'}, z: 50});
  g.push({type: 'text', x: right + 3.5, y: P.grid.top + 5.8, style: {text: 'USD', fill: '#d1d4dc', font: '5.4px ' + FONT, verticalAlign: 'middle', textVerticalAlign: 'middle'}, z: 51});
  const nat = P.tagV.map(v => chart.convertToPixel({yAxisIndex: i}, L(v)));
  const ci = P.tagK.indexOf('cur');
  const hs = P.tagK.map(k => (k === 'cur' && P.cd) ? 2 * h : h);
  const tops = new Array(n);
  tops[ci] = nat[ci] - h / 2;
  for (let j = ci - 1; j >= 0; j--) tops[j] = Math.min(nat[j] - h / 2, tops[j + 1] - hs[j]);
  for (let j = ci + 1; j < n; j++) tops[j] = Math.max(nat[j] - h / 2, tops[j - 1] + hs[j - 1]);
  for (let j = 0; j < n; j++) {
    const c = TAGC[P.tagK[j]], txt = P.tagFmt(P.tagV[j]);
    const sub = (P.tagK[j] === 'cur' && P.cd) ? P.cd : null;
    const w = Math.max(P.tagW, textW(txt) + 5, sub ? textW(sub) + 5 : 0);
    g.push({type: 'rect', shape: {x: right, y: tops[j], width: w, height: hs[j]}, style: {fill: c[0]}, z: 60});
    g.push({type: 'text', x: right + 2.5, y: tops[j] + h / 2 + 0.3, style: {text: txt, fill: c[1], font: '5.6px ' + FONT, verticalAlign: 'middle', textVerticalAlign: 'middle'}, z: 61});
    if (sub) g.push({type: 'text', x: right + 2.5, y: tops[j] + h * 1.5 + 0.3, style: {text: sub, fill: '#e0e3eb', font: '5.6px ' + FONT, verticalAlign: 'middle', textVerticalAlign: 'middle'}, z: 61});
  }
});
chart.setOption({graphic: g});
</script></body></html>
